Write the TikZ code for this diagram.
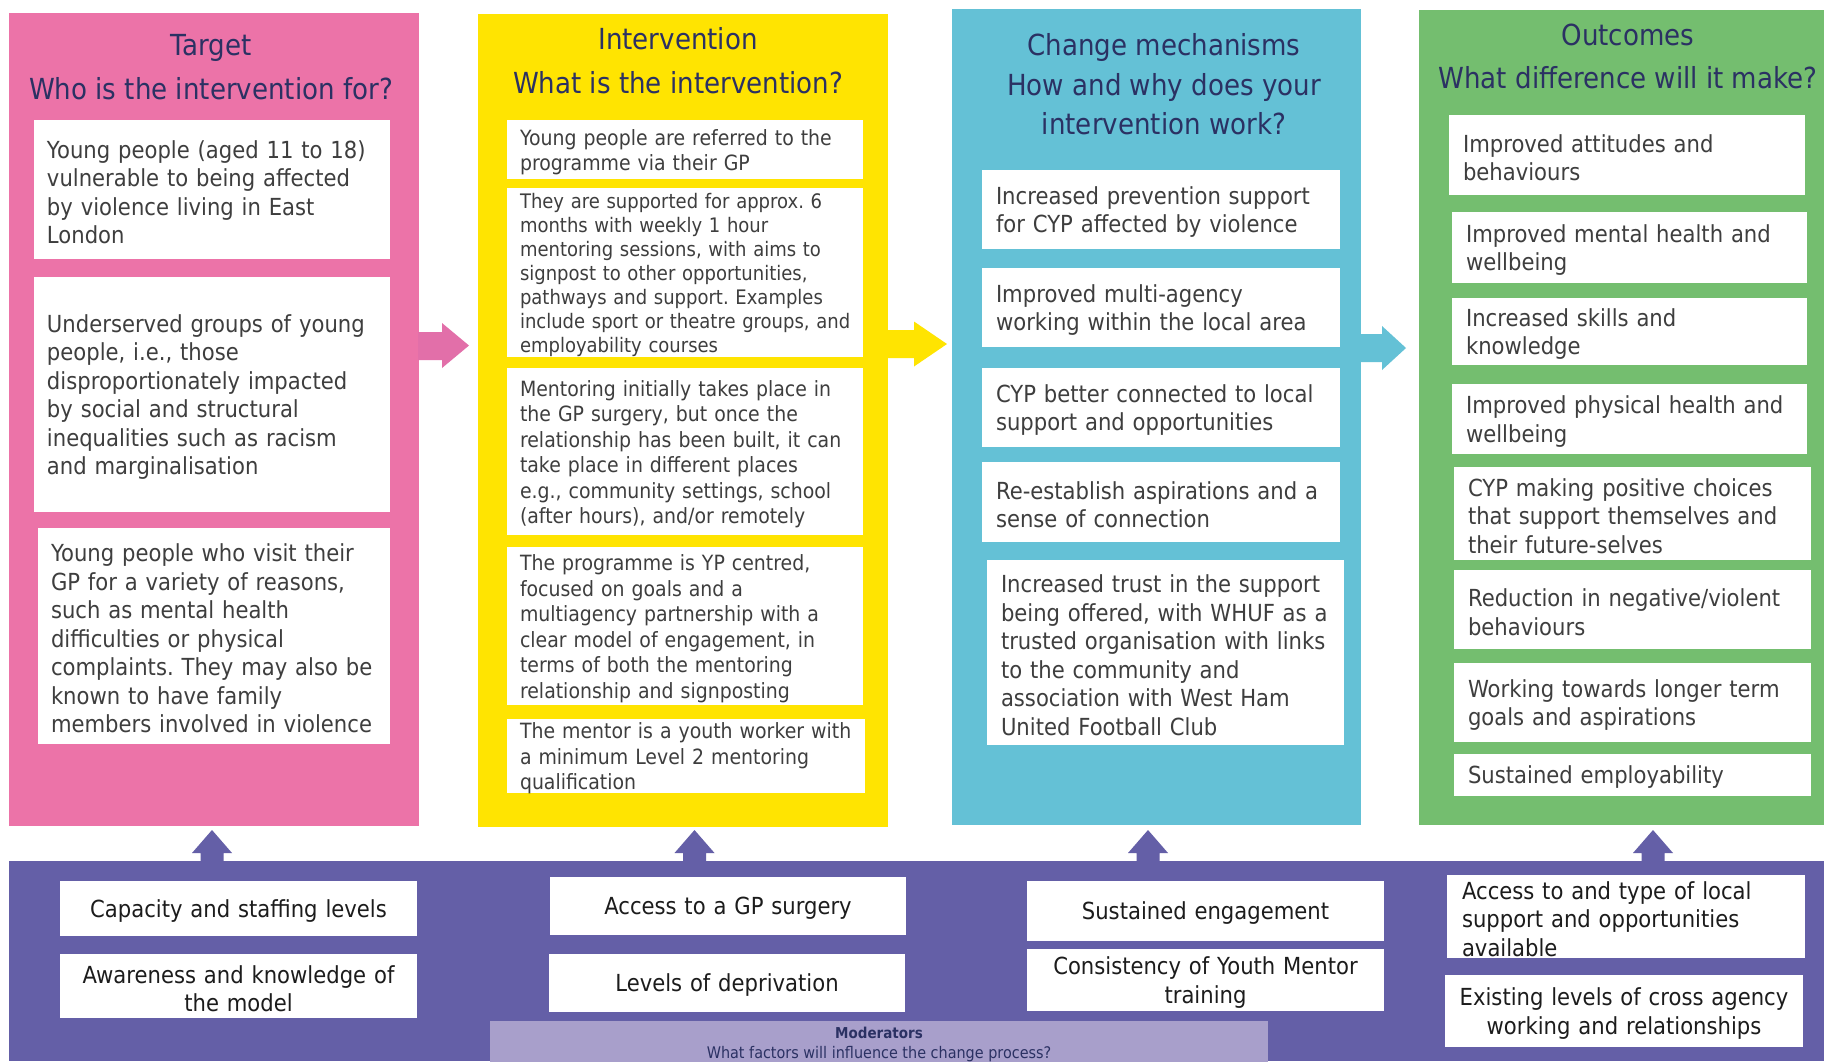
\documentclass[tikz,border=0pt]{standalone}
\usepackage{fontspec}
\setmainfont{DejaVu Sans}[FakeStretch=0.9]

\definecolor{pinkcol}{HTML}{EC73A8}
\definecolor{pinkarrow}{HTML}{E26FA9}
\definecolor{yellowcol}{HTML}{FFE401}
\definecolor{bluecol}{HTML}{64C1D6}
\definecolor{greencol}{HTML}{74BE6F}
\definecolor{purplecol}{HTML}{645FA7}
\definecolor{modcol}{HTML}{A89FCB}
\definecolor{navy}{HTML}{2B3163}
\definecolor{bodytext}{HTML}{3E3E3E}
\definecolor{darktext}{HTML}{1C1C1C}

\newcommand\setfs[2]{\fontsize{#1pt}{#2pt}\selectfont}

\tikzset{
  panel/.style={anchor=north west, inner sep=0pt, outer sep=0pt},
  heading/.style={anchor=base, inner sep=0pt, text=navy, font=\setfs{29}{35}},
  card/.style n args={3}{anchor=north west, fill=white, inner sep=0pt, outer sep=0pt,
    text width=#1pt, minimum width=#1pt, minimum height=#2pt, align=left,
    execute at begin node={\leftskip=#3pt}, execute at end node={\par\kern-5pt},
    text=bodytext},
  ccard/.style 2 args={anchor=north west, fill=white, inner sep=0pt, outer sep=0pt,
    text width=#1pt, minimum width=#1pt, minimum height=#2pt, align=center,
    execute at end node={\par\kern-5pt}, text=darktext},
  bigtxt/.style={font=\setfs{23.5}{28.5}},
  midtxt/.style={font=\setfs{21}{25.5}},
  smalltxt/.style={font=\setfs{20}{24}},
  modtxt/.style={anchor=base, inner sep=0pt, text=navy, font=\setfs{16}{19}},
}

\begin{document}
\frenchspacing
\begin{tikzpicture}[x=1pt, y=-1pt]
\useasboundingbox (0,0) rectangle (1824,1061);
\fill[white] (0,0) rectangle (1824,1061);

% ---- column panels ----
\node[panel, fill=pinkcol,   minimum width=410pt, minimum height=813pt] (target) at (9,13) {};
\node[panel, fill=yellowcol, minimum width=410pt, minimum height=813pt] (interv) at (478,14) {};
\node[panel, fill=bluecol,   minimum width=409pt, minimum height=816pt] (mech)   at (952,9) {};
\node[panel, fill=greencol,  minimum width=405pt, minimum height=815pt] (outc)   at (1419,10) {};

% ---- moderators band ----
\node[panel, fill=purplecol, minimum width=1815pt, minimum height=200pt] (modband) at (9,861) {};
\node[panel, fill=modcol, minimum width=778pt, minimum height=42pt] (modlabel) at (490,1021) {};

% ---- column headings ----
\node[heading] (hT1) at (211,55) {Target};
\node[heading] (hT2) at (211,99) {Who is the intervention for?};
\node[heading] (hI1) at (678,49) {Intervention};
\node[heading] (hI2) at (678,93) {What is the intervention?};
\node[heading] (hM1) at (1164,55) {Change mechanisms};
\node[heading] (hM2) at (1164,95) {How and why does your};
\node[heading] (hM3) at (1164,134) {intervention work?};
\node[heading] (hO1) at (1628,45) {Outcomes};
\node[heading] (hO2) at (1628,88) {What difference will it make?};

% ---- target ----
\node[card={356}{139}{13}, bigtxt] (p1) at (34,120) {Young people (aged 11 to 18)\\vulnerable to being affected\\by violence living in East\\London};
\node[card={356}{235}{13}, bigtxt] (p2) at (34,277) {Underserved groups of young\\people, i.e., those\\disproportionately impacted\\by social and structural\\inequalities such as racism\\and marginalisation};
\node[card={352}{216}{13}, bigtxt] (p3) at (38,528) {Young people who visit their\\GP for a variety of reasons,\\such as mental health\\difficulties or physical\\complaints. They may also be\\known to have family\\members involved in violence};

% ---- intervention ----
\node[card={356}{59}{13}, midtxt] (y1) at (507,120) {Young people are referred to the\\programme via their GP};
\node[card={356}{169}{13}, smalltxt] (y2) at (507,188) {They are supported for approx. 6\\months with weekly 1 hour\\mentoring sessions, with aims to\\signpost to other opportunities,\\pathways and support. Examples\\include sport or theatre groups, and\\employability courses};
\node[card={356}{167}{13}, midtxt] (y3) at (507,368) {Mentoring initially takes place in\\the GP surgery, but once the\\relationship has been built, it can\\take place in different places\\e.g., community settings, school\\(after hours), and/or remotely};
\node[card={356}{158}{13}, midtxt] (y4) at (507,547) {The programme is YP centred,\\focused on goals and a\\multiagency partnership with a\\clear model of engagement, in\\terms of both the mentoring\\relationship and signposting};
\node[card={358}{74}{13}, midtxt] (y5) at (507,719) {The mentor is a youth worker with\\a minimum Level 2 mentoring\\qualification};

% ---- change mechanisms ----
\node[card={358}{79}{14}, bigtxt] (b1) at (982,170) {Increased prevention support\\for CYP affected by violence};
\node[card={358}{79}{14}, bigtxt] (b2) at (982,268) {Improved multi-agency\\working within the local area};
\node[card={358}{79}{14}, bigtxt] (b3) at (982,368) {CYP better connected to local\\support and opportunities};
\node[card={358}{80}{14}, bigtxt] (b4) at (982,462) {Re-establish aspirations and a\\sense of connection};
\node[card={357}{185}{14}, bigtxt] (b5) at (987,560) {Increased trust in the support\\being offered, with WHUF as a\\trusted organisation with links\\to the community and\\association with West Ham\\United Football Club};

% ---- outcomes ----
\node[card={356}{80}{14}, bigtxt] (g1) at (1449,115) {Improved attitudes and\\behaviours};
\node[card={355}{71}{14}, bigtxt] (g2) at (1452,212) {Improved mental health and\\wellbeing};
\node[card={355}{67}{14}, bigtxt] (g3) at (1452,298) {Increased skills and\\knowledge};
\node[card={355}{70}{14}, bigtxt] (g4) at (1452,384) {Improved physical health and\\wellbeing};
\node[card={357}{93}{14}, bigtxt] (g5) at (1454,467) {CYP making positive choices\\that support themselves and\\their future-selves};
\node[card={357}{79}{14}, bigtxt] (g6) at (1454,570) {Reduction in negative/violent\\behaviours};
\node[card={357}{79}{14}, bigtxt] (g7) at (1454,663) {Working towards longer term\\goals and aspirations};
\node[card={357}{42}{14}, bigtxt] (g8) at (1454,754) {Sustained employability};

% ---- moderators ----
\node[ccard={357}{55}, bigtxt] (m1) at (60,881) {Capacity and staffing levels};
\node[ccard={357}{64}, bigtxt] (m2) at (60,954) {Awareness and knowledge of\\the model};
\node[ccard={356}{58}, bigtxt] (m3) at (550,877) {Access to a GP surgery};
\node[ccard={356}{58}, bigtxt] (m4) at (549,954) {Levels of deprivation};
\node[ccard={357}{60}, bigtxt] (m5) at (1027,881) {Sustained engagement};
\node[ccard={357}{62}, bigtxt] (m6) at (1027,949) {Consistency of Youth Mentor\\training};
\node[card={358}{83}{15}, bigtxt, text=darktext] (m7) at (1447,875) {Access to and type of local\\support and opportunities\\available};
\node[ccard={358}{72}, bigtxt] (m8) at (1445,975) {Existing levels of cross agency\\working and relationships};

\node[modtxt, font=\setfs{15}{18}\bfseries] (modA) at (879,1038) {Moderators};
\node[modtxt] (modB) at (879,1058) {What factors will influence the change process?};

% ---- block arrows between columns ----
\fill[pinkarrow] (418,332) -- (442,332) -- (442,323) -- (469,345.5) -- (442,368) -- (442,360) -- (418,360) -- cycle;
\fill[yellowcol] (887,330) -- (914,330) -- (914,321.5) -- (947,344) -- (914,366.5) -- (914,358) -- (887,358) -- cycle;
\fill[bluecol] (1360,334) -- (1382,334) -- (1382,326) -- (1406,348) -- (1382,370) -- (1382,362) -- (1360,362) -- cycle;

% ---- upward arrows from the moderators band ----
\foreach \cx in {212,694.5,1148,1653}{
  \fill[purplecol] (\cx-11.5,862) -- (\cx-11.5,853) -- (\cx-20,853) -- (\cx,830)
    -- (\cx+20,853) -- (\cx+11.5,853) -- (\cx+11.5,862) -- cycle;
}
\end{tikzpicture}
\end{document}
